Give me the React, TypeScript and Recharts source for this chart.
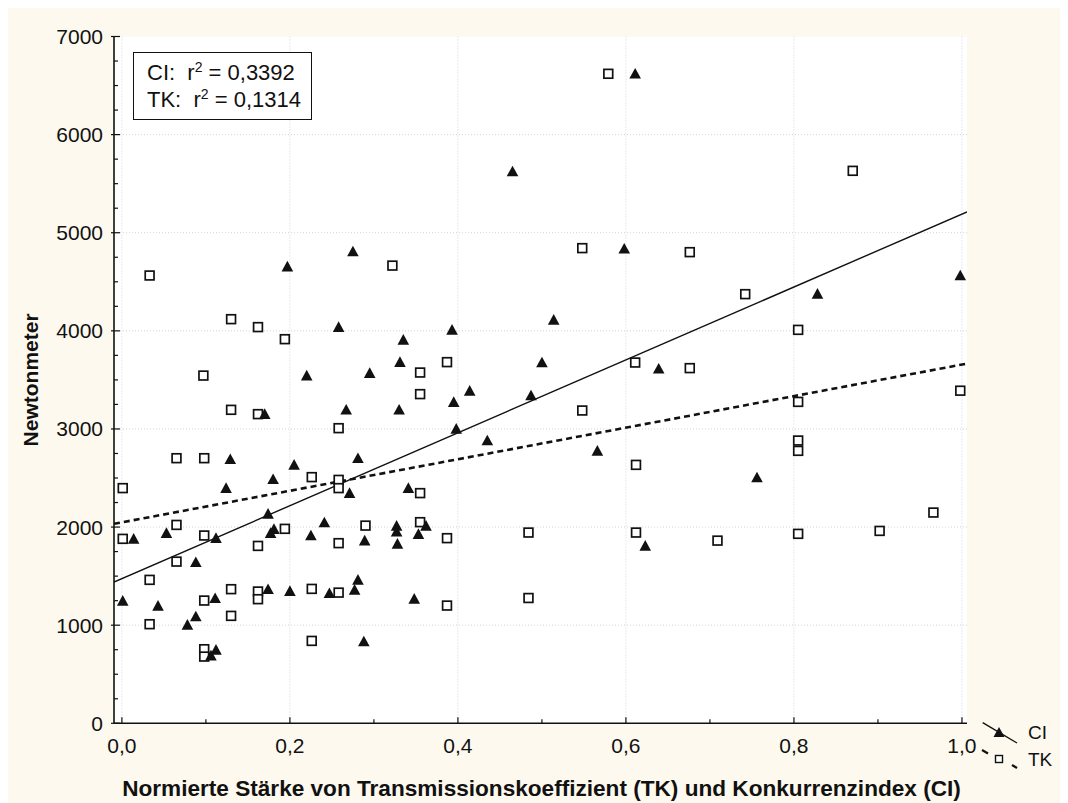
import { CartesianGrid, Legend, Scatter, ScatterChart, XAxis, YAxis } from 'recharts';

// normierte Stärke (x) / Newtonmeter (y)
const ciPoints: [number, number][] = [
  [0.611, 6620], [0.465, 5624], [0.598, 4836], [0.275, 4808], [0.197, 4655], [0.998, 4564],
  [0.828, 4377], [0.514, 4112], [0.258, 4038], [0.393, 4010], [0.335, 3908], [0.331, 3681],
  [0.5, 3677], [0.639, 3613], [0.295, 3569], [0.22, 3544], [0.414, 3388], [0.487, 3341],
  [0.395, 3273], [0.33, 3195], [0.267, 3195], [0.17, 3151], [0.398, 3001], [0.435, 2882],
  [0.566, 2777], [0.281, 2702], [0.129, 2692], [0.205, 2634], [0.756, 2505], [0.18, 2488],
  [0.124, 2397], [0.341, 2397], [0.271, 2346], [0.174, 2135], [0.241, 2046], [0.327, 2012],
  [0.362, 2012], [0.181, 1979], [0.327, 1954], [0.053, 1938], [0.177, 1938], [0.353, 1928],
  [0.225, 1914], [0.014, 1880], [0.112, 1887], [0.289, 1862], [0.328, 1829], [0.623, 1808],
  [0.088, 1642], [0.281, 1462], [0.174, 1367], [0.277, 1360], [0.2, 1347], [0.247, 1326],
  [0.111, 1275], [0.348, 1268], [0.001, 1248], [0.043, 1197], [0.088, 1088], [0.078, 1003],
  [0.288, 833], [0.112, 748], [0.106, 690],
];

const tkPoints: [number, number][] = [
  [0.579, 6620], [0.87, 5631], [0.548, 4843], [0.676, 4802], [0.322, 4665], [0.033, 4564],
  [0.742, 4374], [0.13, 4119], [0.162, 4038], [0.805, 4010], [0.194, 3915], [0.387, 3681],
  [0.611, 3677], [0.676, 3620], [0.355, 3575], [0.097, 3544], [0.998, 3390], [0.355, 3355],
  [0.805, 3276], [0.13, 3195], [0.548, 3188], [0.162, 3151], [0.258, 3008], [0.805, 2882],
  [0.805, 2777], [0.065, 2702], [0.098, 2702], [0.612, 2634], [0.226, 2509], [0.258, 2481],
  [0.001, 2397], [0.258, 2397], [0.355, 2346], [0.966, 2148], [0.355, 2050], [0.065, 2022],
  [0.29, 2015], [0.194, 1982], [0.902, 1961], [0.484, 1944], [0.612, 1944], [0.805, 1931],
  [0.098, 1914], [0.387, 1887], [0.001, 1880], [0.709, 1862], [0.258, 1836], [0.162, 1808],
  [0.065, 1648], [0.033, 1462], [0.226, 1370], [0.13, 1367], [0.162, 1343], [0.258, 1332],
  [0.484, 1277], [0.162, 1265], [0.098, 1251], [0.387, 1200], [0.13, 1095], [0.033, 1010],
  [0.226, 840], [0.098, 755], [0.098, 680],
];

// Regressionsgeraden (Endpunkte am Achsenrand)
const ciFit: [number, number][] = [[-0.0094, 1440], [1.006, 5212]];
const tkFit: [number, number][] = [[-0.0094, 2033], [1.006, 3666]];

const xTicks = [0, 0.1, 0.2, 0.3, 0.4, 0.5, 0.6, 0.7, 0.8, 0.9, 1.0];
const yTicks = [
  0, 250, 500, 750, 1000, 1250, 1500, 1750, 2000, 2250, 2500, 2750, 3000, 3250, 3500,
  3750, 4000, 4250, 4500, 4750, 5000, 5250, 5500, 5750, 6000, 6250, 6500, 6750, 7000,
];
const xGrid = [0, 0.2, 0.4, 0.6, 0.8, 1.0];
const yGrid = [1000, 2000, 3000, 4000, 5000, 6000];

const toXY = (pts: [number, number][]) => pts.map(([x, y]) => ({ x, y }));

const INK = '#111';
const FONT = '"Liberation Sans", Arial, sans-serif';

const isMajorX = (v: number) => Math.round(v * 10) % 2 === 0;
const isMajorY = (v: number) => v % 1000 === 0;
const fmtX = (v: number) => v.toFixed(1).replace('.', ',');

function BottomTick({ x, y, payload }: any) {
  const major = isMajorX(payload.value);
  return (
    <g>
      <line x1={x} y1={y} x2={x} y2={y - (major ? 6 : 4)} stroke={INK} strokeWidth={1.2} />
      {major && (
        <text x={x} y={y + 30} textAnchor="middle" fontSize={21} fill={INK}>
          {fmtX(payload.value)}
        </text>
      )}
    </g>
  );
}

function TopTick({ x, y, payload }: any) {
  const major = isMajorX(payload.value);
  return <line x1={x} y1={y} x2={x} y2={y + (major ? 6 : 4)} stroke={INK} strokeWidth={1.2} />;
}

function LeftTick({ x, y, payload }: any) {
  const major = isMajorY(payload.value);
  return (
    <g>
      <line x1={x - (major ? 3 : 0)} y1={y} x2={x + (major ? 6 : 4)} y2={y} stroke={INK} strokeWidth={1.2} />
      {major && (
        <text x={x - 11} y={y + 7.5} textAnchor="end" fontSize={21} fill={INK}>
          {payload.value}
        </text>
      )}
    </g>
  );
}

function RightTick({ x, y, payload }: any) {
  const major = isMajorY(payload.value);
  return <line x1={x} y1={y} x2={x - (major ? 6 : 4)} y2={y} stroke={INK} strokeWidth={1.2} />;
}

function Triangle({ cx, cy }: any) {
  if (cx == null || cy == null) return <g />;
  return <polygon points={`${cx},${cy - 5.8} ${cx - 5.8},${cy + 4.8} ${cx + 5.8},${cy + 4.8}`} fill={INK} />;
}

function Square({ cx, cy }: any) {
  if (cx == null || cy == null) return <g />;
  return <rect x={cx - 4.4} y={cy - 4.4} width={8.8} height={8.8} fill="#fff" stroke={INK} strokeWidth={1.7} />;
}

const NoDot = () => <g />;

function SeriesLegend() {
  return (
    <svg width={82} height={58} style={{ display: 'block', fontFamily: FONT }}>
      <line x1={2.7} y1={6.7} x2={37} y2={27} stroke={INK} strokeWidth={1.4} />
      <polygon points="19,11 13.5,21 24.5,21" fill={INK} />
      <text x={48} y={23} fontSize={19} fill={INK}>CI</text>
      <line x1={2} y1={34} x2={8} y2={37.5} stroke={INK} strokeWidth={2.2} />
      <rect x={15.5} y={39.5} width={7} height={7} fill="#fff" stroke={INK} strokeWidth={1.4} />
      <line x1={32} y1={49} x2={37} y2={52} stroke={INK} strokeWidth={2.2} />
      <text x={48} y={50} fontSize={19} fill={INK}>TK</text>
    </svg>
  );
}

function YTitle({ viewBox }: any) {
  const cy = viewBox.y + viewBox.height / 2;
  return (
    <text x={30} y={cy} transform={`rotate(-90 30 ${cy})`} textAnchor="middle" fontSize={21} fontWeight="bold" fill={INK}>
      Newtonmeter
    </text>
  );
}

function XTitle({ viewBox }: any) {
  const cx = viewBox.x + viewBox.width / 2;
  return (
    <text x={cx + 1} y={viewBox.y + 73} textAnchor="middle" fontSize={22.6} fontWeight="bold" fill={INK}>
      Normierte Stärke von Transmissionskoeffizient (TK) und Konkurrenzindex (CI)
    </text>
  );
}

export default function App() {
  return (
    <div style={{ position: 'relative', width: 1060, height: 795, background: '#fdf9ee', fontFamily: FONT }}>
      <style>{'body{overflow:hidden}'}</style>
      <ScatterChart width={1060} height={795} margin={{ top: 28.5, right: 101, bottom: 0, left: 0 }}>
        <CartesianGrid
          fill="#fff"
          stroke="#d4d4d4"
          strokeDasharray="1 2"
          horizontalValues={yGrid}
          verticalValues={xGrid}
        />
        <XAxis
          type="number"
          dataKey="x"
          domain={[-0.0094, 1.006]}
          ticks={xTicks}
          interval={0}
          allowDataOverflow
          height={79.7}
          tickSize={0}
          tickMargin={0}
          tickLine={false}
          tick={<BottomTick />}
          axisLine={{ stroke: INK, strokeWidth: 1.6 }}
          label={{ content: <XTitle /> }}
        />
        <XAxis
          xAxisId="top"
          orientation="top"
          type="number"
          dataKey="x"
          domain={[-0.0094, 1.006]}
          ticks={xTicks}
          interval={0}
          allowDataOverflow
          height={0}
          tickSize={0}
          tickMargin={0}
          tickLine={false}
          tick={<TopTick />}
          axisLine={{ stroke: INK, strokeWidth: 1.6 }}
        />
        <YAxis
          type="number"
          dataKey="y"
          domain={[0, 7000]}
          ticks={yTicks}
          interval={0}
          allowDataOverflow
          width={106}
          tickSize={0}
          tickMargin={0}
          tickLine={false}
          tick={<LeftTick />}
          axisLine={{ stroke: INK, strokeWidth: 1.6 }}
          label={{ content: <YTitle /> }}
        />
        <YAxis
          yAxisId="right"
          orientation="right"
          type="number"
          dataKey="y"
          domain={[0, 7000]}
          ticks={yTicks}
          interval={0}
          allowDataOverflow
          width={0}
          tickSize={0}
          tickMargin={0}
          tickLine={false}
          tick={<RightTick />}
          axisLine={{ stroke: INK, strokeWidth: 1.6 }}
        />
        <Scatter
          name="TK Regression"
          data={toXY(tkFit)}
          line={{ stroke: INK, strokeWidth: 2.6, strokeDasharray: '6 4' }}
          shape={NoDot}
          legendType="none"
          isAnimationActive={false}
        />
        <Scatter
          name="CI Regression"
          data={toXY(ciFit)}
          line={{ stroke: INK, strokeWidth: 1.4 }}
          shape={NoDot}
          legendType="none"
          isAnimationActive={false}
        />
        <Scatter name="TK" data={toXY(tkPoints)} shape={<Square />} isAnimationActive={false} />
        <Scatter name="CI" data={toXY(ciPoints)} shape={<Triangle />} isAnimationActive={false} />
        <Legend
          layout="horizontal"
          align="center"
          verticalAlign="middle"
          width={82}
          wrapperStyle={{ left: 972, top: 708, width: 82 }}
          content={<SeriesLegend />}
        />
      </ScatterChart>
      <div
        style={{
          position: 'absolute',
          left: 125,
          top: 44,
          width: 179,
          height: 68,
          boxSizing: 'border-box',
          border: `1.6px solid ${INK}`,
          background: '#fff',
          padding: '6px 0 0 13px',
          fontSize: 22,
          lineHeight: '27px',
          color: INK,
        }}
      >
        <div>
          CI:&nbsp; r<sup style={{ fontSize: 14, lineHeight: 0 }}>2</sup> = 0,3392
        </div>
        <div>
          TK:&nbsp; r<sup style={{ fontSize: 14, lineHeight: 0 }}>2</sup> = 0,1314
        </div>
      </div>
    </div>
  );
}
